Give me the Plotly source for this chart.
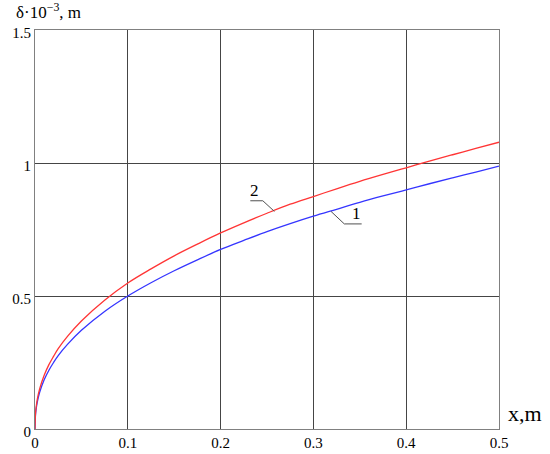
import plotly.graph_objects as go

# Data
x_vals = [0, 0.0005, 0.001, 0.0025, 0.005, 0.01, 0.015, 0.02, 0.025, 0.035, 0.05, 0.075, 0.1,
          0.125, 0.15, 0.175, 0.2, 0.225, 0.25, 0.275, 0.3, 0.325, 0.35, 0.375, 0.4, 0.425, 0.45, 0.475, 0.5]
delta_1 = [0, 0.051, 0.069, 0.102, 0.138, 0.186, 0.221, 0.25, 0.276, 0.318, 0.371, 0.442, 0.50,
           0.550, 0.595, 0.636, 0.675, 0.709, 0.742, 0.772, 0.800, 0.826, 0.852, 0.876, 0.899, 0.922, 0.944, 0.966, 0.988]
delta_2 = [0, 0.056, 0.075, 0.112, 0.151, 0.203, 0.242, 0.273, 0.302, 0.348, 0.406, 0.484, 0.549,
           0.602, 0.651, 0.695, 0.737, 0.775, 0.811, 0.845, 0.874, 0.903, 0.931, 0.957, 0.982, 1.007, 1.031, 1.055, 1.078]

x_ticks = [0, 0.1, 0.2, 0.3, 0.4, 0.5]
x_tick_labels = ["0", "0.1", "0.2", "0.3", "0.4", "0.5"]
y_ticks = [0, 0.5, 1, 1.5]
y_tick_labels = ["0", "0.5", "1", "1.5"]

FONT = "Liberation Serif"

fig = go.Figure()
fig.add_trace(go.Scatter(x=x_vals, y=delta_1, mode="lines", line=dict(color="#3535ff", width=1.3, shape="spline"),
                         showlegend=False))
fig.add_trace(go.Scatter(x=x_vals, y=delta_2, mode="lines", line=dict(color="#ff3535", width=1.3, shape="spline"),
                         showlegend=False))

# leader lines for curve labels
fig.add_trace(go.Scatter(x=[0.232, 0.2455, 0.258], y=[0.858, 0.858, 0.818], mode="lines",
                         line=dict(color="#505050", width=1), showlegend=False, hoverinfo="skip"))
fig.add_trace(go.Scatter(x=[0.319, 0.3333, 0.352], y=[0.818, 0.771, 0.771], mode="lines",
                         line=dict(color="#505050", width=1), showlegend=False, hoverinfo="skip"))

fig.add_annotation(x=0.2366, y=0.896, text="2", showarrow=False, font=dict(family=FONT, size=17, color="black"))
fig.add_annotation(x=0.346, y=0.812, text="1", showarrow=False, font=dict(family=FONT, size=17, color="black"))

fig.add_annotation(xref="paper", yref="paper", x=1.015, y=0.04, xanchor="left", yanchor="middle",
                   text="x,m", showarrow=False, font=dict(family=FONT, size=22, color="black"))
fig.add_annotation(xref="paper", yref="paper", x=-0.045, y=1.0, xanchor="left", yanchor="bottom", yshift=6,
                   text="δ·10<sup>−3</sup>, m", showarrow=False, font=dict(family=FONT, size=17, color="black"))

axis_style = dict(showgrid=True, gridcolor="#454545", gridwidth=1, showline=True, linecolor="#808080",
                  linewidth=1, mirror=True, zeroline=False, ticks="", automargin=False,
                  tickfont=dict(family=FONT, size=15, color="black"))
fig.update_xaxes(range=[0, 0.5], tickvals=x_ticks, ticktext=x_tick_labels, **axis_style)
fig.update_yaxes(range=[0, 1.5], tickvals=y_ticks, ticktext=y_tick_labels, ticklabelshift=3, **axis_style)

fig.update_layout(width=550, height=454, margin=dict(l=35, r=51, t=30, b=25),
                  font=dict(family=FONT, size=15, color="black"),
                  plot_bgcolor="white", paper_bgcolor="white")

fig.write_html("out.html", config={"displayModeBar": False},
               post_script="document.body.style.margin='0';document.body.style.overflow='hidden';")
